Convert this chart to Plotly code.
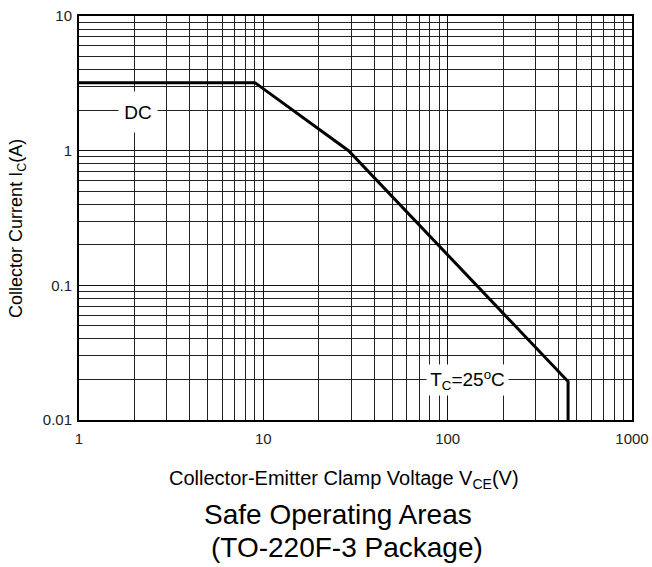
import plotly.graph_objects as go

# Safe operating area boundary (DC, Tc=25C)
vce = [1, 9, 29, 450, 450]
ic = [3.2, 3.2, 1.0, 0.0193, 0.01]

x_ticks = [1, 10, 100, 1000]
x_tick_labels = ["1", "10", "100", "1000"]
y_ticks = [0.01, 0.1, 1, 10]
y_tick_labels = ["0.01", "0.1", "1", "10"]

FONT = "Liberation Sans, Arial, sans-serif"

fig = go.Figure()
fig.add_trace(go.Scatter(x=vce, y=ic, mode="lines",
                         line=dict(color="black", width=3),
                         showlegend=False, hoverinfo="skip"))

fig.update_xaxes(type="log", range=[0, 3], automargin=False,
                 tickvals=x_ticks, ticktext=x_tick_labels,
                 showline=True, linecolor="black", linewidth=2, mirror=True,
                 ticks="", zeroline=False, ticklabelstandoff=4, ticklabeloverflow="allow",
                 tickfont=dict(size=15, color="#222", family=FONT),
                 showgrid=True, gridcolor="#111111", gridwidth=1,
                 minor=dict(dtick="D1", showgrid=True, gridcolor="#222222", gridwidth=1, ticks=""))
fig.update_yaxes(type="log", range=[-2, 1], automargin=False,
                 tickvals=y_ticks, ticktext=y_tick_labels,
                 showline=True, linecolor="black", linewidth=2, mirror=True,
                 ticks="", zeroline=False, ticklabelstandoff=2, ticklabeloverflow="allow",
                 tickfont=dict(size=15, color="#222", family=FONT),
                 showgrid=True, gridcolor="#111111", gridwidth=1,
                 minor=dict(dtick="D1", showgrid=True, gridcolor="#222222", gridwidth=1, ticks=""))

# labels on the chart
fig.add_annotation(x=0.322, y=0.288, xref="x", yref="y", text="DC", showarrow=False,
                   font=dict(size=19, color="black", family=FONT), bgcolor="white",
                   width=36, height=38, borderpad=1)
fig.add_annotation(x=2.108, y=-1.705, xref="x", yref="y",
                   text="T<sub>C</sub>=25<sup>o</sup>C", showarrow=False,
                   font=dict(size=19, color="black", family=FONT), bgcolor="white",
                   width=79, height=28, borderpad=1)

# axis titles and chart caption
common = dict(xref="paper", yref="paper", showarrow=False, xanchor="center", yanchor="middle")
fig.add_annotation(x=-0.1103, y=0.473, text="Collector Current I<sub>C</sub>(A)", textangle=-90,
                   font=dict(size=18, color="black", family=FONT), **common)
fig.add_annotation(x=0.479, y=-0.1485,
                   text="Collector-Emitter Clamp Voltage V<sub>CE</sub>(V)",
                   font=dict(size=20, color="black", family=FONT), **common)
fig.add_annotation(x=0.4675, y=-0.2327, text="Safe Operating Areas",
                   font=dict(size=28, color="black", family=FONT), **common)
fig.add_annotation(x=0.4855, y=-0.3168, text="(TO-220F-3 Package)",
                   font=dict(size=28, color="black", family=FONT), **common)

fig.update_layout(width=652, height=567,
                  margin=dict(l=79, r=20, t=16, b=147),
                  paper_bgcolor="white", plot_bgcolor="white",
                  showlegend=False)

fig.write_html("out.html", config={"displayModeBar": False},
               post_script="document.body.style.margin='0';document.body.style.overflow='hidden';")
